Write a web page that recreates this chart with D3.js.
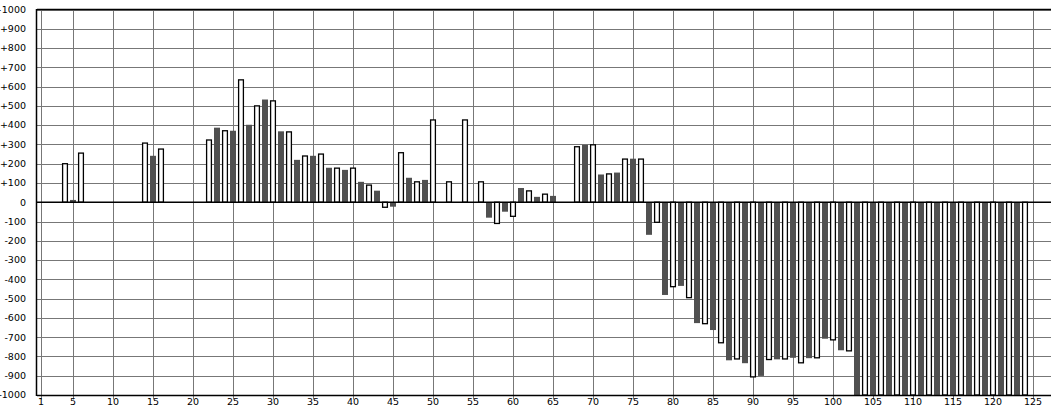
<!DOCTYPE html>
<html><head><meta charset="utf-8">
<script src="https://cdn.jsdelivr.net/npm/d3@7"></script>
<style>body{margin:0;background:#fff}svg{display:block}text{font-family:"DejaVu Sans",Verdana,sans-serif;font-size:9.5px;fill:#000}</style>
</head><body><svg id="c" width="1051" height="407"></svg>
<script>
// x categories 1..124 ; white bars on even x, dark bars on odd x
const xTicks = [1,5,10,15,20,25,30,35,40,45,50,55,60,65,70,75,80,85,90,95,100,105,110,115,120,125];
const yTicks = [-1000,-900,-800,-700,-600,-500,-400,-300,-200,-100,0,100,200,300,400,500,600,700,800,900,1000];
// odd x: 1,3,5,...,123
const darkValues = [null,null,12,null,null,null,null,241,null,null,null,387,371,402,533,368,220,241,179,168,106,60,-23,127,116,null,null,null,-80,-49,74,28,33,null,298,144,154,226,-169,-481,-434,-627,-663,-820,-835,-901,-815,-807,-809,-708,-768,-1000,-1000,-1000,-1000,-1000,-1000,-1000,-1000,-1000,-1000,-1000];
// even x: 2,4,6,...,124
const whiteValues = [null,200,255,null,null,null,307,276,null,null,323,371,635,500,526,365,240,250,177,177,89,-26,257,106,427,106,427,106,-110,-73,59,42,null,288,298,147,224,224,-104,-438,-495,-630,-729,-813,-906,-816,-813,-833,-807,-714,-771,-1000,-1000,-1000,-1000,-1000,-1000,-1000,-1000,-1000,-1000,-1000];

(function () {
const svg = d3.select("#c");
const W = 1051;
const x = d3.scaleLinear().domain([0.5, 127.25]).range([37, 1051]);
const y = d3.scaleLinear().domain([-1000, 1000]).range([395, 9.5]);
const pLeft = 37, pTop = 9.5, pBottom = 395.5;

// grid
svg.append("g").selectAll("line").data(yTicks).join("line")
  .attr("x1", pLeft).attr("x2", W).attr("y1", d => Math.round(y(d)) + 0.5).attr("y2", d => Math.round(y(d)) + 0.5)
  .attr("stroke", "#777").attr("stroke-width", 1);
svg.append("g").selectAll("line").data(xTicks).join("line")
  .attr("x1", d => Math.round(x(d)) + 0.5).attr("x2", d => Math.round(x(d)) + 0.5)
  .attr("y1", pTop).attr("y2", pBottom + 4)
  .attr("stroke", "#777").attr("stroke-width", 1);

const dark = darkValues.map((v, i) => ({x: 2 * i + 1, v})).filter(d => d.v !== null);
const white = whiteValues.map((v, i) => ({x: 2 * i + 2, v})).filter(d => d.v !== null);

svg.append("g").selectAll("rect").data(dark).join("rect")
  .attr("x", d => x(d.x) - 3).attr("width", 6)
  .attr("y", d => Math.min(y(d.v), y(0))).attr("height", d => Math.abs(y(d.v) - y(0)))
  .attr("fill", "#505050");
svg.append("g").selectAll("rect").data(white).join("rect")
  .attr("x", d => x(d.x) - 2.4).attr("width", 4.8)
  .attr("y", d => Math.min(y(d.v), y(0))).attr("height", d => Math.abs(y(d.v) - y(0)))
  .attr("fill", "#fff").attr("stroke", "#000").attr("stroke-width", 1.3);

// zero line
svg.append("line").attr("x1", pLeft).attr("x2", W).attr("y1", y(0)).attr("y2", y(0))
  .attr("stroke", "#000").attr("stroke-width", 1.5);
// top border, left axis, bottom axis
svg.append("line").attr("x1", pLeft).attr("x2", W).attr("y1", pTop).attr("y2", pTop).attr("stroke", "#000").attr("stroke-width", 1.3);
svg.append("line").attr("x1", pLeft).attr("x2", W).attr("y1", pBottom).attr("y2", pBottom).attr("stroke", "#000").attr("stroke-width", 1.5);
svg.append("line").attr("x1", pLeft - 0.5).attr("x2", pLeft - 0.5).attr("y1", pTop - 0.5).attr("y2", pBottom + 0.5).attr("stroke", "#000").attr("stroke-width", 1.5);

// labels
svg.append("g").selectAll("text").data(yTicks).join("text")
  .attr("x", 26).attr("y", d => y(d)).attr("dy", "0.35em").attr("text-anchor", "end")
  .text(d => d > 0 ? "+" + d : String(d));
svg.append("g").selectAll("text").data(xTicks).join("text")
  .attr("x", d => x(d)).attr("y", 405).attr("text-anchor", "middle")
  .text(d => d);
})();
</script></body></html>
